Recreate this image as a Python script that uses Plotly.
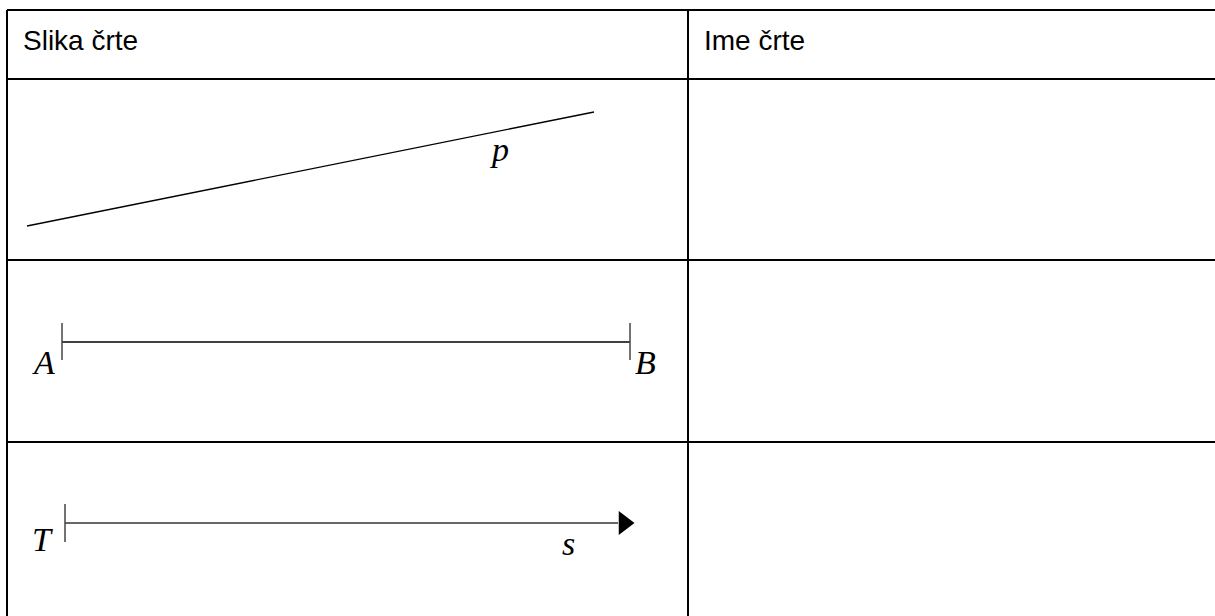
import plotly.graph_objects as go

# table grid (pixel coordinates, y grows downwards)
row_edges = [10, 79, 260, 442, 640]
col_edges = [7, 688, 1230]
header_labels = ["Slika črte", "Ime črte"]

# premica p
line_p_x = [27, 594]
line_p_y = [226, 112]

# daljica AB
seg_x = [62, 630]
seg_y = [342, 342]

# poltrak s z začetkom T
ray_x = [65, 618]
ray_y = [523, 523]

point_labels = ["p", "A", "B", "T", "s"]
label_x = [499, 43, 645, 42, 568]
label_y = [149, 362, 362, 539, 543]

W, H = 1215, 616

fig = go.Figure()

# p
fig.add_trace(go.Scatter(x=line_p_x, y=line_p_y, mode="lines",
                         line=dict(color="black", width=1.4), hoverinfo="skip"))
# AB + end ticks
fig.add_trace(go.Scatter(x=seg_x, y=seg_y, mode="lines",
                         line=dict(color="black", width=1.6), hoverinfo="skip"))
for xx in seg_x:
    fig.add_trace(go.Scatter(x=[xx, xx], y=[seg_y[0] - 19, seg_y[0] + 18], mode="lines",
                             line=dict(color="#444", width=1.5), hoverinfo="skip"))
# ray
fig.add_trace(go.Scatter(x=ray_x, y=ray_y, mode="lines",
                         line=dict(color="#333", width=1.6), hoverinfo="skip"))
fig.add_trace(go.Scatter(x=[ray_x[0], ray_x[0]], y=[ray_y[0] - 19, ray_y[0] + 19], mode="lines",
                         line=dict(color="#444", width=1.5), hoverinfo="skip"))
fig.add_trace(go.Scatter(x=[ray_x[1] + 6], y=[ray_y[1]], mode="markers",
                         marker=dict(symbol="triangle-right", size=21, color="black"),
                         hoverinfo="skip"))

# table lines
for y in row_edges:
    fig.add_shape(type="line", x0=col_edges[0], x1=col_edges[-1], y0=y, y1=y,
                  line=dict(color="black", width=2))
for x in col_edges:
    fig.add_shape(type="line", x0=x, x1=x, y0=row_edges[0], y1=row_edges[-1],
                  line=dict(color="black", width=2))

for i, lab in enumerate(header_labels):
    fig.add_annotation(x=col_edges[i] + 14, y=(row_edges[0] + row_edges[1]) / 2 - 4,
                       text=lab, showarrow=False, xanchor="left", yanchor="middle",
                       font=dict(family="Liberation Sans, Arial", size=28, color="black"))

for lab, xx, yy in zip(point_labels, label_x, label_y):
    fig.add_annotation(x=xx, y=yy, text=f"<i>{lab}</i>", showarrow=False,
                       xanchor="center", yanchor="middle",
                       font=dict(family="Liberation Serif, Times New Roman", size=34, color="black"))

fig.update_xaxes(range=[0, W], visible=False, fixedrange=True)
fig.update_yaxes(range=[H, 0], visible=False, fixedrange=True)
fig.update_layout(width=W, height=H, margin=dict(l=0, r=0, t=0, b=0),
                  paper_bgcolor="white", plot_bgcolor="white", showlegend=False)

fig.write_html("out.html", config={"displayModeBar": False},
               post_script="document.body.style.margin='0';")
